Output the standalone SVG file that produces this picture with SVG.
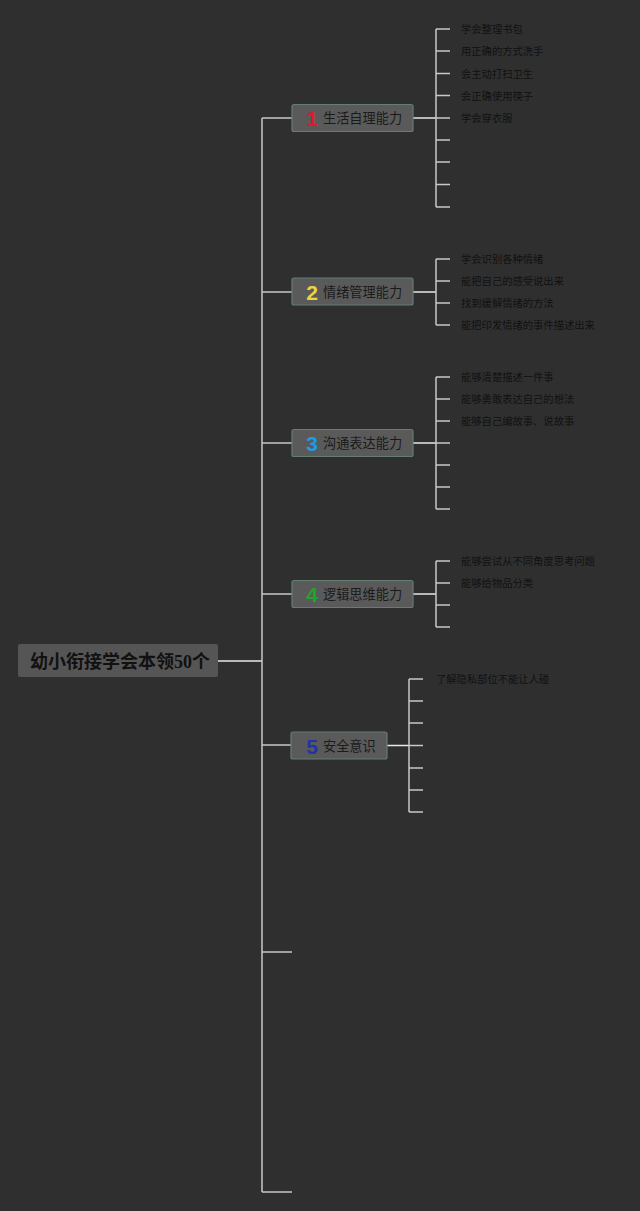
<svg xmlns="http://www.w3.org/2000/svg" width="640" height="1211" viewBox="0 0 640 1211">
<style>
.bg{fill:#2f2f2f}
.ln{stroke:#c8c8c8;stroke-width:1.5;fill:none}
.lw{stroke:#e8e8e8;stroke-width:1.6;fill:none}
.node{fill:#5a5a5a;stroke:#647e72;stroke-width:1.2}
.root{fill:#555555}
.nt{font-family:"Noto Sans CJK SC","Noto Sans",sans-serif;font-size:13.2px;fill:#1a1a1a}
.num{font-family:"Liberation Sans","Noto Sans",sans-serif;font-size:21px;font-weight:bold;text-anchor:middle}
.ct{font-family:"Noto Sans CJK SC","Noto Sans",sans-serif;font-size:10.3px;fill:#111111}
.rt{font-family:"Liberation Serif","Noto Sans CJK SC",serif;font-size:18px;font-weight:bold;fill:#111111}
</style>
<rect class="bg" x="0" y="0" width="640" height="1211"/>
<g id="connectors">
<path class="lw" d="M218,661 H262"/>
<path class="ln" d="M262,118 V1192 M262,118 H292 M262,292 H292 M262,443 H292 M262,594 H292 M262,745 H292 M262,952 H292 M262,1192 H292"/>
<path class="lw" d="M413,118 H436 M413,292 H436 M413,443 H436 M413,594 H436 M387,745.5 H409"/>
<path class="ln" d="M436,29 V207 M436,29 H450 M436,51 H450 M436,73.5 H450 M436,95.5 H450 M436,118 H450 M436,140 H450 M436,162 H450 M436,184.5 H450 M436,207 H450"/>
<path class="ln" d="M436,259 V325 M436,259 H450 M436,281 H450 M436,303 H450 M436,325 H450"/>
<path class="ln" d="M436,377 V509 M436,377 H450 M436,399 H450 M436,421 H450 M436,443 H450 M436,465 H450 M436,487 H450 M436,509 H450"/>
<path class="ln" d="M436,561 V627 M436,561 H450 M436,583 H450 M436,605 H450 M436,627 H450"/>
<path class="ln" d="M409,679 V812 M409,679 H423 M409,701 H423 M409,723 H423 M409,745.5 H423 M409,768 H423 M409,790 H423 M409,812 H423"/>
</g>
<g id="root">
<rect class="root" x="18" y="644" width="200" height="33" rx="2"/>
<text class="rt" x="30" y="667.5">幼小衔接学会本领50个</text>
</g>
<g id="n1">
<rect class="node" x="292" y="104.5" width="121" height="27" rx="2"/>
<text class="num" x="312" y="125.5" fill="#e0192d">1</text>
<text class="nt" x="323" y="123">生活自理能力</text>
</g>
<g id="n1-children">
<text class="ct" x="461" y="33">学会整理书包</text>
<text class="ct" x="461" y="55">用正确的方式洗手</text>
<text class="ct" x="461" y="77.5">会主动打扫卫生</text>
<text class="ct" x="461" y="99.5">会正确使用筷子</text>
<text class="ct" x="461" y="122">学会穿衣服</text>
</g>
<g id="n2">
<rect class="node" x="292" y="278" width="121" height="27" rx="2"/>
<text class="num" x="312" y="299.5" fill="#f2d23c">2</text>
<text class="nt" x="323" y="297">情绪管理能力</text>
</g>
<g id="n2-children">
<text class="ct" x="461" y="263">学会识别各种情绪</text>
<text class="ct" x="461" y="285">能把自己的感受说出来</text>
<text class="ct" x="461" y="307">找到缓解情绪的方法</text>
<text class="ct" x="461" y="329">能把印发情绪的事件描述出来</text>
</g>
<g id="n3">
<rect class="node" x="292" y="429.5" width="121" height="27" rx="2"/>
<text class="num" x="312" y="450.5" fill="#1e9be0">3</text>
<text class="nt" x="323" y="448">沟通表达能力</text>
</g>
<g id="n3-children">
<text class="ct" x="461" y="381">能够清楚描述一件事</text>
<text class="ct" x="461" y="403">能够勇敢表达自己的想法</text>
<text class="ct" x="461" y="425">能够自己编故事、说故事</text>
</g>
<g id="n4">
<rect class="node" x="292" y="580.5" width="121" height="27" rx="2"/>
<text class="num" x="312" y="601.5" fill="#1ea52c">4</text>
<text class="nt" x="323" y="599">逻辑思维能力</text>
</g>
<g id="n4-children">
<text class="ct" x="461" y="565">能够尝试从不同角度思考问题</text>
<text class="ct" x="461" y="587">能够给物品分类</text>
</g>
<g id="n5">
<rect class="node" x="291" y="732" width="96" height="27" rx="2"/>
<text class="num" x="312" y="753.5" fill="#2233a8">5</text>
<text class="nt" x="323" y="751">安全意识</text>
</g>
<g id="n5-children">
<text class="ct" x="436" y="683">了解隐私部位不能让人碰</text>
</g>
</svg>
